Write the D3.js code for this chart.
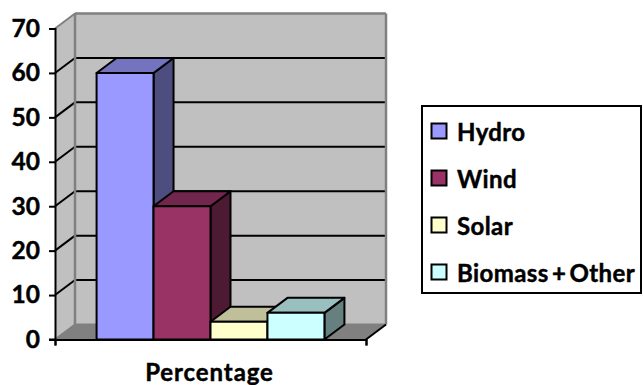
<!DOCTYPE html>
<html>
<head>
<meta charset="utf-8">
<script src="https://cdn.jsdelivr.net/npm/d3@7/dist/d3.min.js"></script>
<style>
html, body { margin: 0; padding: 0; background: #fff; }
svg { display: block; }
text { font-family: Lato, "Open Sans", sans-serif; font-weight: 700; fill: #000; stroke: #000; stroke-width: 0.45px; }
</style>
</head>
<body>
<svg id="chart" width="643" height="385"></svg>
<script>
// Energy source shares, drawn as a 3-D clustered column chart
const seriesNames = ["Hydro", "Wind", "Solar", "Biomass + Other"];
const seriesValues = [60, 30, 4, 6];
const categoryLabel = "Percentage";
const yTicks = [0, 10, 20, 30, 40, 50, 60, 70];
const frontColors = ["#9999FF", "#993366", "#FFFFCC", "#CCFFFF"];
const topColors = ["#7373BF", "#73264D", "#BFBF99", "#99BFBF"];
const sideColors = ["#4D4D80", "#4D1A33", "#808066", "#668080"];

const plotLeft = 55, plotRight = 366, plotBottom = 339.5, plotTop = 28.5;
const depthX = 20, depthY = -15;

const svg = d3.select("#chart");
const y = d3.scaleLinear().domain([0, 70]).range([plotBottom, plotTop]);
const x = d3.scaleBand().domain(seriesNames).range([plotLeft, plotRight])
  .paddingInner(0).paddingOuter(0.73);

const poly = (pts, fill, stroke, sw) => svg.append("polygon")
  .attr("points", pts.map(p => p.join(",")).join(" "))
  .attr("fill", fill)
  .attr("stroke", stroke || "none")
  .attr("stroke-width", sw || 0)
  .attr("stroke-linejoin", "round");
const line = (x1, y1, x2, y2, stroke, sw) => svg.append("line")
  .attr("x1", x1).attr("y1", y1).attr("x2", x2).attr("y2", y2)
  .attr("stroke", stroke).attr("stroke-width", sw);

// Walls and floor of the plot box
const bx = plotLeft + depthX, bxr = plotRight + depthX;
const yTop = y(70), yBot = y(0);
poly([[plotLeft, yTop], [bx, yTop + depthY], [bx, yBot + depthY], [plotLeft, yBot]], "#C0C0C0");
poly([[bx, yTop + depthY], [bxr, yTop + depthY], [bxr, yBot + depthY], [bx, yBot + depthY]], "#C0C0C0");
poly([[plotLeft, yBot], [bx, yBot + depthY], [bxr, yBot + depthY], [plotRight, yBot]], "#808080");

// Gridlines wrap from the back wall down the side wall
yTicks.slice(1, -1).forEach(t => {
  line(bx, y(t) + depthY, bxr, y(t) + depthY, "#000", 2);
  line(plotLeft, y(t), bx, y(t) + depthY, "#000", 2);
});

// Wall edges
line(plotLeft, yTop, bx, yTop + depthY, "#808080", 2);
line(bx, yTop + depthY, bxr, yTop + depthY, "#808080", 2.5);
line(bx, yTop + depthY, bx, yBot + depthY, "#808080", 2.5);
line(bxr, yTop + depthY, bxr, yBot + depthY, "#808080", 2.5);
line(bx, yBot + depthY, bxr, yBot + depthY, "#808080", 2);
line(plotLeft, yBot, bx, yBot + depthY, "#808080", 2);
line(plotRight, yBot, bxr, yBot + depthY, "#000", 2);

// Columns: side and top faces first, front face over them
seriesNames.forEach((name, i) => {
  const x0 = x(name), x1 = x0 + x.bandwidth();
  const yv = y(seriesValues[i]);
  poly([[x1, yv], [x1 + depthX, yv + depthY], [x1 + depthX, yBot + depthY], [x1, yBot]], sideColors[i], "#000", 2);
  poly([[x0, yv], [x0 + depthX, yv + depthY], [x1 + depthX, yv + depthY], [x1, yv]], topColors[i], "#000", 2);
  poly([[x0, yv], [x1, yv], [x1, yBot], [x0, yBot]], frontColors[i], "#000", 2);
});

// Value axis
const yAxis = d3.axisLeft(y).tickValues(yTicks).tickSize(6).tickPadding(9);
const gy = svg.append("g").attr("transform", `translate(${plotLeft},0)`).call(yAxis);
gy.select(".domain").attr("stroke", "#000").attr("stroke-width", 2);
gy.selectAll(".tick line").attr("stroke", "#000").attr("stroke-width", 2);
gy.selectAll(".tick text")
  .style("font-family", "Lato, 'Open Sans', sans-serif")
  .style("font-weight", 700).style("font-size", "24.5px").attr("fill", "#000");

// Category axis
const xAxis = d3.axisBottom(d3.scaleLinear().domain([0, 1]).range([plotLeft, plotRight]))
  .tickValues([0, 1]).tickSize(6).tickFormat("");
const gx = svg.append("g").attr("transform", `translate(0,${plotBottom})`).call(xAxis);
gx.select(".domain").attr("stroke", "#000").attr("stroke-width", 2);
gx.selectAll(".tick line").attr("stroke", "#000").attr("stroke-width", 2);
line(plotLeft - 6, plotBottom, plotLeft, plotBottom, "#000", 2);

svg.append("text")
  .attr("x", (plotLeft + plotRight) / 2 - 1).attr("y", 381)
  .attr("text-anchor", "middle").attr("font-size", 24)
  .attr("letter-spacing", 0.9)
  .text(categoryLabel);

// Legend
const legendX = 422, legendY = 106, legendW = 219, legendH = 187;
svg.append("rect").attr("x", legendX).attr("y", legendY)
  .attr("width", legendW).attr("height", legendH)
  .attr("fill", "#fff").attr("stroke", "#000").attr("stroke-width", 2);
const rowY = d3.scalePoint().domain(seriesNames).range([131, 272]);
seriesNames.forEach((name, i) => {
  svg.append("rect").attr("x", 431.5).attr("y", rowY(name) - 7.5)
    .attr("width", 15).attr("height", 15)
    .attr("fill", frontColors[i]).attr("stroke", "#000").attr("stroke-width", 2);
  svg.append("text").attr("x", 457).attr("y", rowY(name) + 10)
    .attr("font-size", 24).attr("letter-spacing", 0.4).attr("word-spacing", -3)
    .text(name);
});
</script>
</body>
</html>
